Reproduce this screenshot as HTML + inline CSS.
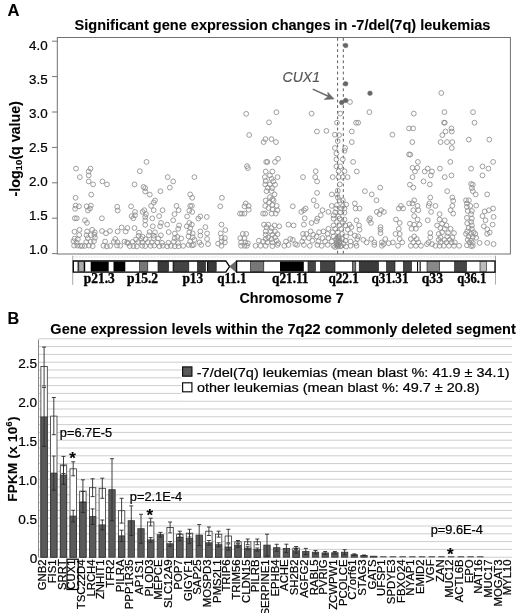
<!DOCTYPE html>
<html><head><meta charset="utf-8"><title>Figure</title>
<style>html,body{margin:0;padding:0;background:#fff}svg{display:block}text{font-family:"Liberation Sans",Arial,sans-serif;fill:#000;stroke:#000;stroke-width:0.22px}.b{stroke-width:0.1px}.s{stroke-width:0.35px}.b{font-weight:bold}.s{font-family:"Liberation Serif","Times New Roman",serif;font-weight:bold}</style></head><body>
<svg width="520" height="613" viewBox="0 0 520 613">
<rect width="520" height="613" fill="#fff"/>
<text x="7.6" y="15.9" class="b" font-size="16.6">A</text>
<text x="282.5" y="30" class="b" font-size="14.54" text-anchor="middle">Significant gene expression changes in -7/del(7q) leukemias</text>
<rect x="57.3" y="37.5" width="453.09999999999997" height="216.5" fill="none" stroke="#707070" stroke-width="1"/>
<line x1="52" y1="253.6" x2="57.3" y2="253.6" stroke="#777" stroke-width="1"/>
<text x="47.6" y="253.5" font-size="13.4" text-anchor="end">1.0</text>
<line x1="52" y1="218.2" x2="57.3" y2="218.2" stroke="#777" stroke-width="1"/>
<text x="47.6" y="219.6" font-size="13.4" text-anchor="end">1.5</text>
<line x1="52" y1="182.8" x2="57.3" y2="182.8" stroke="#777" stroke-width="1"/>
<text x="47.6" y="185.7" font-size="13.4" text-anchor="end">2.0</text>
<line x1="52" y1="147.4" x2="57.3" y2="147.4" stroke="#777" stroke-width="1"/>
<text x="47.6" y="151.8" font-size="13.4" text-anchor="end">2.5</text>
<line x1="52" y1="112.0" x2="57.3" y2="112.0" stroke="#777" stroke-width="1"/>
<text x="47.6" y="117.9" font-size="13.4" text-anchor="end">3.0</text>
<line x1="52" y1="76.6" x2="57.3" y2="76.6" stroke="#777" stroke-width="1"/>
<text x="47.6" y="84.0" font-size="13.4" text-anchor="end">3.5</text>
<line x1="52" y1="41.2" x2="57.3" y2="41.2" stroke="#777" stroke-width="1"/>
<text x="47.6" y="50.1" font-size="13.4" text-anchor="end">4.0</text>
<text transform="translate(19.8,148.8) rotate(-90)" class="b" font-size="14.3" text-anchor="middle">-log<tspan font-size="9.5" dy="2">10</tspan><tspan dy="-2">(q value)</tspan></text>
<line x1="337.6" y1="38" x2="337.6" y2="256.3" stroke="#5a5a5a" stroke-width="1" stroke-dasharray="2.8,2.8"/>
<line x1="343.3" y1="38" x2="343.3" y2="256.3" stroke="#5a5a5a" stroke-width="1" stroke-dasharray="2.8,2.8"/>
<g fill="none" stroke="#8e8e8e" stroke-width="0.85">
<circle cx="76.0" cy="168.6" r="2.4"/>
<circle cx="90.5" cy="168.6" r="2.4"/>
<circle cx="88.7" cy="171.5" r="2.4"/>
<circle cx="88.7" cy="175.4" r="2.4"/>
<circle cx="79.9" cy="177.1" r="2.4"/>
<circle cx="88.7" cy="181.4" r="2.4"/>
<circle cx="93.1" cy="184.4" r="2.4"/>
<circle cx="102.4" cy="181.4" r="2.4"/>
<circle cx="107.0" cy="184.4" r="2.4"/>
<circle cx="91.2" cy="194.6" r="2.4"/>
<circle cx="75.6" cy="197.8" r="2.4"/>
<circle cx="75.6" cy="205.6" r="2.4"/>
<circle cx="79.0" cy="206.3" r="2.4"/>
<circle cx="75.1" cy="208.8" r="2.4"/>
<circle cx="86.6" cy="206.3" r="2.4"/>
<circle cx="90.9" cy="205.6" r="2.4"/>
<circle cx="90.0" cy="208.5" r="2.4"/>
<circle cx="88.0" cy="210.5" r="2.4"/>
<circle cx="117.2" cy="206.8" r="2.4"/>
<circle cx="117.7" cy="210.5" r="2.4"/>
<circle cx="74.8" cy="218.3" r="2.4"/>
<circle cx="76.8" cy="218.3" r="2.4"/>
<circle cx="85.0" cy="220.3" r="2.4"/>
<circle cx="87.0" cy="222.9" r="2.4"/>
<circle cx="101.9" cy="218.3" r="2.4"/>
<circle cx="74.1" cy="245.6" r="2.4"/>
<circle cx="77.4" cy="245.6" r="2.4"/>
<circle cx="80.1" cy="245.8" r="2.4"/>
<circle cx="82.0" cy="246.0" r="2.4"/>
<circle cx="84.8" cy="245.9" r="2.4"/>
<circle cx="88.9" cy="245.6" r="2.4"/>
<circle cx="92.7" cy="246.2" r="2.4"/>
<circle cx="103.4" cy="245.7" r="2.4"/>
<circle cx="106.8" cy="246.4" r="2.4"/>
<circle cx="110.2" cy="245.9" r="2.4"/>
<circle cx="117.0" cy="245.5" r="2.4"/>
<circle cx="120.3" cy="245.8" r="2.4"/>
<circle cx="73.4" cy="241.3" r="2.4"/>
<circle cx="76.5" cy="242.6" r="2.4"/>
<circle cx="86.2" cy="242.1" r="2.4"/>
<circle cx="90.6" cy="241.8" r="2.4"/>
<circle cx="94.0" cy="241.2" r="2.4"/>
<circle cx="105.1" cy="241.5" r="2.4"/>
<circle cx="113.8" cy="241.9" r="2.4"/>
<circle cx="117.4" cy="242.2" r="2.4"/>
<circle cx="124.5" cy="241.6" r="2.4"/>
<circle cx="127.1" cy="242.4" r="2.4"/>
<circle cx="74.6" cy="238.6" r="2.4"/>
<circle cx="77.8" cy="239.2" r="2.4"/>
<circle cx="87.8" cy="238.1" r="2.4"/>
<circle cx="95.0" cy="237.8" r="2.4"/>
<circle cx="115.2" cy="239.0" r="2.4"/>
<circle cx="79.2" cy="235.0" r="2.4"/>
<circle cx="86.5" cy="235.3" r="2.4"/>
<circle cx="90.8" cy="235.1" r="2.4"/>
<circle cx="94.4" cy="234.7" r="2.4"/>
<circle cx="74.5" cy="231.7" r="2.4"/>
<circle cx="87.1" cy="231.4" r="2.4"/>
<circle cx="94.8" cy="232.3" r="2.4"/>
<circle cx="106.0" cy="233.3" r="2.4"/>
<circle cx="79.5" cy="229.8" r="2.4"/>
<circle cx="92.2" cy="229.8" r="2.4"/>
<circle cx="102.0" cy="231.0" r="2.4"/>
<circle cx="110.0" cy="231.0" r="2.4"/>
<circle cx="117.6" cy="231.5" r="2.4"/>
<circle cx="125.7" cy="231.5" r="2.4"/>
<circle cx="121.6" cy="227.5" r="2.4"/>
<circle cx="146.5" cy="161.9" r="2.4"/>
<circle cx="139.8" cy="171.2" r="2.4"/>
<circle cx="167.7" cy="177.1" r="2.4"/>
<circle cx="173.2" cy="181.4" r="2.4"/>
<circle cx="134.5" cy="184.4" r="2.4"/>
<circle cx="143.5" cy="186.9" r="2.4"/>
<circle cx="145.2" cy="188.1" r="2.4"/>
<circle cx="169.8" cy="187.6" r="2.4"/>
<circle cx="145.2" cy="191.5" r="2.4"/>
<circle cx="160.4" cy="191.2" r="2.4"/>
<circle cx="149.8" cy="194.6" r="2.4"/>
<circle cx="155.0" cy="200.5" r="2.4"/>
<circle cx="153.7" cy="202.5" r="2.4"/>
<circle cx="151.1" cy="205.9" r="2.4"/>
<circle cx="131.1" cy="206.3" r="2.4"/>
<circle cx="176.5" cy="205.9" r="2.4"/>
<circle cx="144.3" cy="210.2" r="2.4"/>
<circle cx="142.6" cy="211.9" r="2.4"/>
<circle cx="135.0" cy="211.9" r="2.4"/>
<circle cx="153.7" cy="210.2" r="2.4"/>
<circle cx="162.6" cy="210.2" r="2.4"/>
<circle cx="178.6" cy="210.2" r="2.4"/>
<circle cx="146.0" cy="214.1" r="2.4"/>
<circle cx="135.0" cy="215.3" r="2.4"/>
<circle cx="131.6" cy="216.1" r="2.4"/>
<circle cx="174.5" cy="214.1" r="2.4"/>
<circle cx="133.3" cy="218.3" r="2.4"/>
<circle cx="145.2" cy="217.0" r="2.4"/>
<circle cx="159.1" cy="216.1" r="2.4"/>
<circle cx="152.3" cy="218.3" r="2.4"/>
<circle cx="145.2" cy="220.3" r="2.4"/>
<circle cx="173.2" cy="220.3" r="2.4"/>
<circle cx="161.0" cy="222.9" r="2.4"/>
<circle cx="145.2" cy="224.9" r="2.4"/>
<circle cx="152.8" cy="226.3" r="2.4"/>
<circle cx="160.1" cy="226.3" r="2.4"/>
<circle cx="167.2" cy="224.6" r="2.4"/>
<circle cx="179.1" cy="225.4" r="2.4"/>
<circle cx="127.4" cy="228.0" r="2.4"/>
<circle cx="134.5" cy="228.0" r="2.4"/>
<circle cx="178.2" cy="228.8" r="2.4"/>
<circle cx="129.8" cy="246.1" r="2.4"/>
<circle cx="133.4" cy="246.1" r="2.4"/>
<circle cx="136.8" cy="246.4" r="2.4"/>
<circle cx="142.2" cy="245.8" r="2.4"/>
<circle cx="145.2" cy="246.1" r="2.4"/>
<circle cx="150.6" cy="245.9" r="2.4"/>
<circle cx="154.3" cy="245.6" r="2.4"/>
<circle cx="159.4" cy="246.2" r="2.4"/>
<circle cx="162.8" cy="245.7" r="2.4"/>
<circle cx="167.2" cy="246.3" r="2.4"/>
<circle cx="170.9" cy="245.9" r="2.4"/>
<circle cx="174.8" cy="246.3" r="2.4"/>
<circle cx="178.5" cy="246.3" r="2.4"/>
<circle cx="183.2" cy="245.9" r="2.4"/>
<circle cx="127.9" cy="243.2" r="2.4"/>
<circle cx="132.6" cy="241.9" r="2.4"/>
<circle cx="138.1" cy="242.0" r="2.4"/>
<circle cx="142.2" cy="242.5" r="2.4"/>
<circle cx="147.8" cy="242.1" r="2.4"/>
<circle cx="151.8" cy="242.4" r="2.4"/>
<circle cx="157.4" cy="242.6" r="2.4"/>
<circle cx="162.0" cy="242.8" r="2.4"/>
<circle cx="168.4" cy="242.7" r="2.4"/>
<circle cx="173.8" cy="241.7" r="2.4"/>
<circle cx="178.1" cy="243.0" r="2.4"/>
<circle cx="135.9" cy="239.5" r="2.4"/>
<circle cx="141.2" cy="238.8" r="2.4"/>
<circle cx="145.6" cy="239.2" r="2.4"/>
<circle cx="153.6" cy="238.2" r="2.4"/>
<circle cx="158.3" cy="238.4" r="2.4"/>
<circle cx="174.6" cy="238.2" r="2.4"/>
<circle cx="181.2" cy="238.4" r="2.4"/>
<circle cx="138.6" cy="235.8" r="2.4"/>
<circle cx="142.5" cy="236.7" r="2.4"/>
<circle cx="148.9" cy="235.4" r="2.4"/>
<circle cx="153.8" cy="235.7" r="2.4"/>
<circle cx="160.9" cy="235.3" r="2.4"/>
<circle cx="177.3" cy="236.9" r="2.4"/>
<circle cx="139.0" cy="232.7" r="2.4"/>
<circle cx="149.6" cy="232.0" r="2.4"/>
<circle cx="155.0" cy="232.3" r="2.4"/>
<circle cx="168.7" cy="232.1" r="2.4"/>
<circle cx="174.8" cy="233.5" r="2.4"/>
<circle cx="194.4" cy="177.1" r="2.4"/>
<circle cx="190.2" cy="194.4" r="2.4"/>
<circle cx="192.2" cy="197.8" r="2.4"/>
<circle cx="221.9" cy="197.8" r="2.4"/>
<circle cx="190.2" cy="205.9" r="2.4"/>
<circle cx="191.9" cy="205.9" r="2.4"/>
<circle cx="220.3" cy="206.3" r="2.4"/>
<circle cx="189.3" cy="210.7" r="2.4"/>
<circle cx="192.2" cy="211.9" r="2.4"/>
<circle cx="187.1" cy="216.4" r="2.4"/>
<circle cx="200.3" cy="216.4" r="2.4"/>
<circle cx="206.8" cy="216.9" r="2.4"/>
<circle cx="198.3" cy="218.6" r="2.4"/>
<circle cx="189.3" cy="222.9" r="2.4"/>
<circle cx="191.9" cy="224.6" r="2.4"/>
<circle cx="221.5" cy="224.6" r="2.4"/>
<circle cx="186.8" cy="226.3" r="2.4"/>
<circle cx="205.4" cy="227.1" r="2.4"/>
<circle cx="190.2" cy="228.0" r="2.4"/>
<circle cx="225.4" cy="230.0" r="2.4"/>
<circle cx="200.3" cy="231.4" r="2.4"/>
<circle cx="189.3" cy="232.2" r="2.4"/>
<circle cx="192.7" cy="233.4" r="2.4"/>
<circle cx="207.1" cy="233.4" r="2.4"/>
<circle cx="220.7" cy="233.4" r="2.4"/>
<circle cx="200.3" cy="235.6" r="2.4"/>
<circle cx="188.5" cy="236.4" r="2.4"/>
<circle cx="192.7" cy="237.3" r="2.4"/>
<circle cx="221.5" cy="237.8" r="2.4"/>
<circle cx="224.9" cy="238.1" r="2.4"/>
<circle cx="207.1" cy="239.0" r="2.4"/>
<circle cx="194.4" cy="239.8" r="2.4"/>
<circle cx="190.2" cy="241.5" r="2.4"/>
<circle cx="199.5" cy="242.4" r="2.4"/>
<circle cx="221.5" cy="241.5" r="2.4"/>
<circle cx="218.1" cy="243.6" r="2.4"/>
<circle cx="224.9" cy="242.4" r="2.4"/>
<circle cx="188.5" cy="244.9" r="2.4"/>
<circle cx="191.9" cy="245.4" r="2.4"/>
<circle cx="193.6" cy="244.9" r="2.4"/>
<circle cx="201.2" cy="244.9" r="2.4"/>
<circle cx="208.0" cy="244.1" r="2.4"/>
<circle cx="221.5" cy="245.8" r="2.4"/>
<circle cx="240.0" cy="213.6" r="2.4"/>
<circle cx="278.0" cy="158.8" r="2.4"/>
<circle cx="275.0" cy="161.9" r="2.4"/>
<circle cx="267.4" cy="161.9" r="2.4"/>
<circle cx="266.2" cy="161.9" r="2.4"/>
<circle cx="247.0" cy="166.1" r="2.4"/>
<circle cx="247.9" cy="168.1" r="2.4"/>
<circle cx="265.7" cy="171.5" r="2.4"/>
<circle cx="272.4" cy="171.5" r="2.4"/>
<circle cx="269.9" cy="175.4" r="2.4"/>
<circle cx="264.8" cy="177.1" r="2.4"/>
<circle cx="277.5" cy="177.1" r="2.4"/>
<circle cx="271.6" cy="178.8" r="2.4"/>
<circle cx="265.7" cy="181.0" r="2.4"/>
<circle cx="273.3" cy="181.4" r="2.4"/>
<circle cx="265.2" cy="184.4" r="2.4"/>
<circle cx="269.9" cy="184.4" r="2.4"/>
<circle cx="275.0" cy="184.7" r="2.4"/>
<circle cx="267.7" cy="187.6" r="2.4"/>
<circle cx="272.1" cy="188.1" r="2.4"/>
<circle cx="266.5" cy="191.2" r="2.4"/>
<circle cx="271.6" cy="191.2" r="2.4"/>
<circle cx="274.6" cy="194.4" r="2.4"/>
<circle cx="269.9" cy="197.1" r="2.4"/>
<circle cx="272.4" cy="199.2" r="2.4"/>
<circle cx="265.7" cy="200.5" r="2.4"/>
<circle cx="273.6" cy="200.5" r="2.4"/>
<circle cx="269.0" cy="202.5" r="2.4"/>
<circle cx="245.7" cy="203.4" r="2.4"/>
<circle cx="244.5" cy="206.3" r="2.4"/>
<circle cx="248.7" cy="205.9" r="2.4"/>
<circle cx="265.2" cy="205.9" r="2.4"/>
<circle cx="272.4" cy="205.1" r="2.4"/>
<circle cx="276.7" cy="205.9" r="2.4"/>
<circle cx="292.8" cy="206.3" r="2.4"/>
<circle cx="268.5" cy="208.1" r="2.4"/>
<circle cx="248.7" cy="209.7" r="2.4"/>
<circle cx="272.4" cy="209.3" r="2.4"/>
<circle cx="277.5" cy="210.2" r="2.4"/>
<circle cx="241.9" cy="213.6" r="2.4"/>
<circle cx="244.5" cy="213.6" r="2.4"/>
<circle cx="263.1" cy="213.6" r="2.4"/>
<circle cx="265.2" cy="213.6" r="2.4"/>
<circle cx="271.6" cy="213.6" r="2.4"/>
<circle cx="275.8" cy="213.6" r="2.4"/>
<circle cx="264.0" cy="224.6" r="2.4"/>
<circle cx="268.2" cy="224.6" r="2.4"/>
<circle cx="274.6" cy="225.4" r="2.4"/>
<circle cx="279.2" cy="226.3" r="2.4"/>
<circle cx="288.5" cy="224.6" r="2.4"/>
<circle cx="293.6" cy="225.4" r="2.4"/>
<circle cx="266.5" cy="227.1" r="2.4"/>
<circle cx="271.6" cy="228.0" r="2.4"/>
<circle cx="265.7" cy="231.4" r="2.4"/>
<circle cx="270.7" cy="231.4" r="2.4"/>
<circle cx="275.0" cy="231.4" r="2.4"/>
<circle cx="242.8" cy="233.9" r="2.4"/>
<circle cx="246.2" cy="233.9" r="2.4"/>
<circle cx="265.7" cy="234.7" r="2.4"/>
<circle cx="272.4" cy="234.7" r="2.4"/>
<circle cx="277.5" cy="234.2" r="2.4"/>
<circle cx="268.2" cy="237.3" r="2.4"/>
<circle cx="275.0" cy="237.3" r="2.4"/>
<circle cx="240.2" cy="238.1" r="2.4"/>
<circle cx="244.5" cy="238.1" r="2.4"/>
<circle cx="265.7" cy="239.0" r="2.4"/>
<circle cx="271.6" cy="239.0" r="2.4"/>
<circle cx="290.2" cy="239.0" r="2.4"/>
<circle cx="258.9" cy="240.7" r="2.4"/>
<circle cx="263.1" cy="241.5" r="2.4"/>
<circle cx="276.7" cy="240.7" r="2.4"/>
<circle cx="286.0" cy="241.5" r="2.4"/>
<circle cx="241.1" cy="242.4" r="2.4"/>
<circle cx="245.3" cy="242.4" r="2.4"/>
<circle cx="247.9" cy="243.2" r="2.4"/>
<circle cx="267.4" cy="242.4" r="2.4"/>
<circle cx="272.4" cy="242.4" r="2.4"/>
<circle cx="278.4" cy="243.2" r="2.4"/>
<circle cx="241.1" cy="245.8" r="2.4"/>
<circle cx="244.5" cy="245.8" r="2.4"/>
<circle cx="247.0" cy="245.8" r="2.4"/>
<circle cx="255.5" cy="245.8" r="2.4"/>
<circle cx="260.6" cy="245.8" r="2.4"/>
<circle cx="265.7" cy="245.8" r="2.4"/>
<circle cx="272.4" cy="246.1" r="2.4"/>
<circle cx="277.5" cy="244.9" r="2.4"/>
<circle cx="284.3" cy="245.8" r="2.4"/>
<circle cx="288.5" cy="244.9" r="2.4"/>
<circle cx="295.3" cy="244.1" r="2.4"/>
<circle cx="336.4" cy="153.4" r="2.4"/>
<circle cx="344.5" cy="150.8" r="2.4"/>
<circle cx="336.4" cy="159.3" r="2.4"/>
<circle cx="342.8" cy="159.3" r="2.4"/>
<circle cx="336.4" cy="166.4" r="2.4"/>
<circle cx="340.3" cy="166.4" r="2.4"/>
<circle cx="315.7" cy="171.2" r="2.4"/>
<circle cx="338.6" cy="171.2" r="2.4"/>
<circle cx="344.5" cy="171.2" r="2.4"/>
<circle cx="303.0" cy="177.1" r="2.4"/>
<circle cx="315.2" cy="177.1" r="2.4"/>
<circle cx="332.7" cy="177.1" r="2.4"/>
<circle cx="338.6" cy="177.1" r="2.4"/>
<circle cx="342.8" cy="177.1" r="2.4"/>
<circle cx="347.6" cy="177.1" r="2.4"/>
<circle cx="317.1" cy="181.4" r="2.4"/>
<circle cx="339.8" cy="184.4" r="2.4"/>
<circle cx="337.8" cy="190.7" r="2.4"/>
<circle cx="317.1" cy="192.9" r="2.4"/>
<circle cx="331.8" cy="194.4" r="2.4"/>
<circle cx="336.9" cy="194.4" r="2.4"/>
<circle cx="337.8" cy="197.5" r="2.4"/>
<circle cx="313.7" cy="200.3" r="2.4"/>
<circle cx="339.5" cy="200.3" r="2.4"/>
<circle cx="342.8" cy="200.3" r="2.4"/>
<circle cx="316.6" cy="205.9" r="2.4"/>
<circle cx="331.8" cy="205.9" r="2.4"/>
<circle cx="336.9" cy="205.1" r="2.4"/>
<circle cx="342.8" cy="205.9" r="2.4"/>
<circle cx="346.2" cy="204.6" r="2.4"/>
<circle cx="305.6" cy="208.5" r="2.4"/>
<circle cx="336.1" cy="208.5" r="2.4"/>
<circle cx="341.2" cy="208.5" r="2.4"/>
<circle cx="344.5" cy="208.5" r="2.4"/>
<circle cx="301.3" cy="211.9" r="2.4"/>
<circle cx="303.9" cy="210.2" r="2.4"/>
<circle cx="322.5" cy="210.2" r="2.4"/>
<circle cx="328.4" cy="211.9" r="2.4"/>
<circle cx="335.2" cy="212.4" r="2.4"/>
<circle cx="340.3" cy="212.4" r="2.4"/>
<circle cx="344.5" cy="212.7" r="2.4"/>
<circle cx="320.8" cy="215.3" r="2.4"/>
<circle cx="333.5" cy="215.3" r="2.4"/>
<circle cx="338.6" cy="216.1" r="2.4"/>
<circle cx="304.7" cy="218.3" r="2.4"/>
<circle cx="317.4" cy="218.6" r="2.4"/>
<circle cx="333.5" cy="218.6" r="2.4"/>
<circle cx="339.5" cy="218.6" r="2.4"/>
<circle cx="344.5" cy="219.5" r="2.4"/>
<circle cx="311.5" cy="222.9" r="2.4"/>
<circle cx="316.6" cy="221.2" r="2.4"/>
<circle cx="336.9" cy="222.0" r="2.4"/>
<circle cx="342.8" cy="222.9" r="2.4"/>
<circle cx="303.9" cy="224.6" r="2.4"/>
<circle cx="333.5" cy="225.4" r="2.4"/>
<circle cx="339.5" cy="225.4" r="2.4"/>
<circle cx="345.4" cy="225.4" r="2.4"/>
<circle cx="349.6" cy="224.6" r="2.4"/>
<circle cx="328.4" cy="228.8" r="2.4"/>
<circle cx="335.2" cy="228.8" r="2.4"/>
<circle cx="341.2" cy="228.8" r="2.4"/>
<circle cx="347.9" cy="229.7" r="2.4"/>
<circle cx="310.6" cy="231.4" r="2.4"/>
<circle cx="323.4" cy="231.4" r="2.4"/>
<circle cx="319.1" cy="232.2" r="2.4"/>
<circle cx="332.7" cy="232.2" r="2.4"/>
<circle cx="337.8" cy="232.2" r="2.4"/>
<circle cx="303.0" cy="233.9" r="2.4"/>
<circle cx="306.4" cy="233.9" r="2.4"/>
<circle cx="313.2" cy="234.7" r="2.4"/>
<circle cx="327.6" cy="233.9" r="2.4"/>
<circle cx="342.0" cy="233.9" r="2.4"/>
<circle cx="316.6" cy="236.4" r="2.4"/>
<circle cx="333.5" cy="236.4" r="2.4"/>
<circle cx="338.6" cy="236.4" r="2.4"/>
<circle cx="346.2" cy="236.4" r="2.4"/>
<circle cx="303.9" cy="238.1" r="2.4"/>
<circle cx="308.9" cy="238.1" r="2.4"/>
<circle cx="322.5" cy="238.1" r="2.4"/>
<circle cx="328.4" cy="238.1" r="2.4"/>
<circle cx="336.1" cy="239.0" r="2.4"/>
<circle cx="342.0" cy="239.0" r="2.4"/>
<circle cx="292.8" cy="239.8" r="2.4"/>
<circle cx="302.2" cy="241.5" r="2.4"/>
<circle cx="312.3" cy="240.7" r="2.4"/>
<circle cx="318.3" cy="241.5" r="2.4"/>
<circle cx="325.1" cy="241.5" r="2.4"/>
<circle cx="331.8" cy="241.5" r="2.4"/>
<circle cx="337.8" cy="241.5" r="2.4"/>
<circle cx="345.4" cy="240.7" r="2.4"/>
<circle cx="350.5" cy="241.5" r="2.4"/>
<circle cx="297.1" cy="244.9" r="2.4"/>
<circle cx="303.9" cy="244.9" r="2.4"/>
<circle cx="309.8" cy="245.8" r="2.4"/>
<circle cx="317.4" cy="244.9" r="2.4"/>
<circle cx="321.7" cy="245.8" r="2.4"/>
<circle cx="327.6" cy="244.9" r="2.4"/>
<circle cx="333.5" cy="245.8" r="2.4"/>
<circle cx="337.8" cy="244.9" r="2.4"/>
<circle cx="337.8" cy="246.6" r="2.4"/>
<circle cx="341.2" cy="245.8" r="2.4"/>
<circle cx="346.2" cy="246.6" r="2.4"/>
<circle cx="350.5" cy="245.8" r="2.4"/>
<circle cx="353.1" cy="161.9" r="2.4"/>
<circle cx="356.8" cy="171.5" r="2.4"/>
<circle cx="380.2" cy="187.6" r="2.4"/>
<circle cx="364.9" cy="191.2" r="2.4"/>
<circle cx="371.7" cy="194.4" r="2.4"/>
<circle cx="376.5" cy="200.3" r="2.4"/>
<circle cx="354.8" cy="203.4" r="2.4"/>
<circle cx="355.6" cy="208.5" r="2.4"/>
<circle cx="359.5" cy="208.5" r="2.4"/>
<circle cx="400.9" cy="205.9" r="2.4"/>
<circle cx="398.8" cy="208.5" r="2.4"/>
<circle cx="403.1" cy="208.5" r="2.4"/>
<circle cx="381.1" cy="210.2" r="2.4"/>
<circle cx="376.8" cy="211.9" r="2.4"/>
<circle cx="383.9" cy="211.9" r="2.4"/>
<circle cx="379.4" cy="214.1" r="2.4"/>
<circle cx="370.0" cy="218.3" r="2.4"/>
<circle cx="356.5" cy="220.3" r="2.4"/>
<circle cx="369.2" cy="220.3" r="2.4"/>
<circle cx="396.0" cy="219.5" r="2.4"/>
<circle cx="370.9" cy="222.9" r="2.4"/>
<circle cx="399.7" cy="222.9" r="2.4"/>
<circle cx="359.0" cy="225.4" r="2.4"/>
<circle cx="351.4" cy="227.1" r="2.4"/>
<circle cx="380.5" cy="227.1" r="2.4"/>
<circle cx="398.8" cy="228.8" r="2.4"/>
<circle cx="359.5" cy="229.7" r="2.4"/>
<circle cx="380.5" cy="229.7" r="2.4"/>
<circle cx="350.5" cy="233.1" r="2.4"/>
<circle cx="380.5" cy="233.1" r="2.4"/>
<circle cx="395.5" cy="233.9" r="2.4"/>
<circle cx="399.7" cy="233.9" r="2.4"/>
<circle cx="354.8" cy="235.6" r="2.4"/>
<circle cx="358.2" cy="236.4" r="2.4"/>
<circle cx="357.3" cy="239.0" r="2.4"/>
<circle cx="363.3" cy="239.8" r="2.4"/>
<circle cx="371.4" cy="239.0" r="2.4"/>
<circle cx="385.3" cy="239.0" r="2.4"/>
<circle cx="399.7" cy="239.0" r="2.4"/>
<circle cx="366.6" cy="242.4" r="2.4"/>
<circle cx="374.3" cy="242.4" r="2.4"/>
<circle cx="381.9" cy="242.4" r="2.4"/>
<circle cx="392.9" cy="242.4" r="2.4"/>
<circle cx="402.2" cy="242.4" r="2.4"/>
<circle cx="355.6" cy="243.2" r="2.4"/>
<circle cx="388.7" cy="243.2" r="2.4"/>
<circle cx="356.5" cy="245.8" r="2.4"/>
<circle cx="374.3" cy="244.9" r="2.4"/>
<circle cx="381.9" cy="245.8" r="2.4"/>
<circle cx="383.6" cy="244.1" r="2.4"/>
<circle cx="398.0" cy="245.8" r="2.4"/>
<circle cx="410.3" cy="154.6" r="2.4"/>
<circle cx="417.9" cy="161.9" r="2.4"/>
<circle cx="450.3" cy="161.9" r="2.4"/>
<circle cx="412.5" cy="167.8" r="2.4"/>
<circle cx="417.2" cy="167.8" r="2.4"/>
<circle cx="427.7" cy="168.6" r="2.4"/>
<circle cx="439.9" cy="168.6" r="2.4"/>
<circle cx="415.0" cy="171.5" r="2.4"/>
<circle cx="424.7" cy="171.5" r="2.4"/>
<circle cx="432.0" cy="171.5" r="2.4"/>
<circle cx="430.8" cy="175.4" r="2.4"/>
<circle cx="412.5" cy="177.1" r="2.4"/>
<circle cx="444.7" cy="177.1" r="2.4"/>
<circle cx="451.5" cy="175.4" r="2.4"/>
<circle cx="423.5" cy="181.4" r="2.4"/>
<circle cx="409.9" cy="184.7" r="2.4"/>
<circle cx="413.3" cy="187.6" r="2.4"/>
<circle cx="429.8" cy="184.4" r="2.4"/>
<circle cx="447.2" cy="191.2" r="2.4"/>
<circle cx="430.3" cy="197.5" r="2.4"/>
<circle cx="452.3" cy="197.5" r="2.4"/>
<circle cx="414.2" cy="200.3" r="2.4"/>
<circle cx="453.2" cy="200.8" r="2.4"/>
<circle cx="409.1" cy="203.4" r="2.4"/>
<circle cx="412.5" cy="203.4" r="2.4"/>
<circle cx="429.4" cy="203.4" r="2.4"/>
<circle cx="417.6" cy="205.9" r="2.4"/>
<circle cx="428.6" cy="205.9" r="2.4"/>
<circle cx="435.4" cy="205.9" r="2.4"/>
<circle cx="452.3" cy="205.9" r="2.4"/>
<circle cx="413.3" cy="210.2" r="2.4"/>
<circle cx="418.4" cy="210.2" r="2.4"/>
<circle cx="431.1" cy="211.9" r="2.4"/>
<circle cx="450.6" cy="210.2" r="2.4"/>
<circle cx="453.2" cy="213.6" r="2.4"/>
<circle cx="439.6" cy="214.1" r="2.4"/>
<circle cx="414.2" cy="216.1" r="2.4"/>
<circle cx="417.6" cy="219.5" r="2.4"/>
<circle cx="427.7" cy="220.3" r="2.4"/>
<circle cx="439.6" cy="219.5" r="2.4"/>
<circle cx="444.7" cy="220.3" r="2.4"/>
<circle cx="409.9" cy="223.7" r="2.4"/>
<circle cx="414.2" cy="224.6" r="2.4"/>
<circle cx="419.3" cy="224.6" r="2.4"/>
<circle cx="437.1" cy="225.4" r="2.4"/>
<circle cx="442.1" cy="223.7" r="2.4"/>
<circle cx="446.4" cy="225.4" r="2.4"/>
<circle cx="411.6" cy="228.8" r="2.4"/>
<circle cx="415.9" cy="228.8" r="2.4"/>
<circle cx="440.4" cy="228.0" r="2.4"/>
<circle cx="444.7" cy="228.8" r="2.4"/>
<circle cx="450.6" cy="228.8" r="2.4"/>
<circle cx="430.3" cy="233.1" r="2.4"/>
<circle cx="438.7" cy="233.9" r="2.4"/>
<circle cx="442.1" cy="232.2" r="2.4"/>
<circle cx="448.1" cy="233.1" r="2.4"/>
<circle cx="454.0" cy="233.1" r="2.4"/>
<circle cx="414.2" cy="236.4" r="2.4"/>
<circle cx="430.3" cy="237.3" r="2.4"/>
<circle cx="440.4" cy="237.3" r="2.4"/>
<circle cx="447.2" cy="236.4" r="2.4"/>
<circle cx="452.3" cy="237.3" r="2.4"/>
<circle cx="410.8" cy="239.0" r="2.4"/>
<circle cx="416.7" cy="239.0" r="2.4"/>
<circle cx="438.7" cy="239.8" r="2.4"/>
<circle cx="444.7" cy="239.8" r="2.4"/>
<circle cx="449.8" cy="239.8" r="2.4"/>
<circle cx="413.3" cy="242.4" r="2.4"/>
<circle cx="418.4" cy="242.4" r="2.4"/>
<circle cx="428.6" cy="242.4" r="2.4"/>
<circle cx="440.4" cy="242.4" r="2.4"/>
<circle cx="446.4" cy="242.4" r="2.4"/>
<circle cx="451.5" cy="242.4" r="2.4"/>
<circle cx="454.8" cy="242.4" r="2.4"/>
<circle cx="410.8" cy="245.8" r="2.4"/>
<circle cx="415.9" cy="245.8" r="2.4"/>
<circle cx="420.9" cy="245.8" r="2.4"/>
<circle cx="426.9" cy="244.1" r="2.4"/>
<circle cx="432.0" cy="244.1" r="2.4"/>
<circle cx="435.4" cy="245.8" r="2.4"/>
<circle cx="439.6" cy="245.8" r="2.4"/>
<circle cx="443.8" cy="245.8" r="2.4"/>
<circle cx="448.9" cy="245.8" r="2.4"/>
<circle cx="454.0" cy="245.8" r="2.4"/>
<circle cx="459.1" cy="245.8" r="2.4"/>
<circle cx="493.1" cy="161.9" r="2.4"/>
<circle cx="482.5" cy="166.4" r="2.4"/>
<circle cx="471.1" cy="168.6" r="2.4"/>
<circle cx="488.4" cy="168.6" r="2.4"/>
<circle cx="482.5" cy="175.4" r="2.4"/>
<circle cx="471.1" cy="183.9" r="2.4"/>
<circle cx="472.8" cy="184.7" r="2.4"/>
<circle cx="471.9" cy="188.1" r="2.4"/>
<circle cx="472.8" cy="191.2" r="2.4"/>
<circle cx="475.7" cy="194.4" r="2.4"/>
<circle cx="487.2" cy="194.4" r="2.4"/>
<circle cx="466.0" cy="200.3" r="2.4"/>
<circle cx="468.9" cy="200.3" r="2.4"/>
<circle cx="466.9" cy="203.4" r="2.4"/>
<circle cx="466.9" cy="206.8" r="2.4"/>
<circle cx="470.3" cy="205.9" r="2.4"/>
<circle cx="476.2" cy="205.6" r="2.4"/>
<circle cx="493.1" cy="208.5" r="2.4"/>
<circle cx="488.9" cy="210.2" r="2.4"/>
<circle cx="484.7" cy="211.4" r="2.4"/>
<circle cx="467.7" cy="211.0" r="2.4"/>
<circle cx="471.9" cy="211.0" r="2.4"/>
<circle cx="471.1" cy="214.1" r="2.4"/>
<circle cx="482.5" cy="216.1" r="2.4"/>
<circle cx="493.6" cy="216.9" r="2.4"/>
<circle cx="466.9" cy="217.8" r="2.4"/>
<circle cx="471.9" cy="218.6" r="2.4"/>
<circle cx="485.5" cy="220.3" r="2.4"/>
<circle cx="471.1" cy="222.0" r="2.4"/>
<circle cx="467.2" cy="223.2" r="2.4"/>
<circle cx="492.6" cy="224.6" r="2.4"/>
<circle cx="471.9" cy="225.4" r="2.4"/>
<circle cx="483.8" cy="226.3" r="2.4"/>
<circle cx="468.6" cy="228.0" r="2.4"/>
<circle cx="471.9" cy="228.8" r="2.4"/>
<circle cx="487.2" cy="229.3" r="2.4"/>
<circle cx="467.2" cy="231.4" r="2.4"/>
<circle cx="473.6" cy="232.2" r="2.4"/>
<circle cx="489.7" cy="232.5" r="2.4"/>
<circle cx="466.0" cy="233.9" r="2.4"/>
<circle cx="471.1" cy="233.9" r="2.4"/>
<circle cx="475.3" cy="233.9" r="2.4"/>
<circle cx="487.2" cy="233.9" r="2.4"/>
<circle cx="468.6" cy="236.4" r="2.4"/>
<circle cx="472.8" cy="236.8" r="2.4"/>
<circle cx="476.2" cy="237.8" r="2.4"/>
<circle cx="467.7" cy="239.8" r="2.4"/>
<circle cx="471.1" cy="240.7" r="2.4"/>
<circle cx="469.4" cy="242.4" r="2.4"/>
<circle cx="472.8" cy="242.9" r="2.4"/>
<circle cx="479.6" cy="242.9" r="2.4"/>
<circle cx="487.2" cy="242.9" r="2.4"/>
<circle cx="493.6" cy="244.1" r="2.4"/>
<circle cx="466.9" cy="245.3" r="2.4"/>
<circle cx="471.1" cy="246.1" r="2.4"/>
<circle cx="472.8" cy="245.8" r="2.4"/>
<circle cx="336.5" cy="243.5" r="2.4"/>
<circle cx="339.5" cy="243.0" r="2.4"/>
<circle cx="338.8" cy="240.0" r="2.4"/>
<circle cx="340.4" cy="246.3" r="2.4"/>
<circle cx="335.0" cy="247.0" r="2.4"/>
<circle cx="343.5" cy="243.8" r="2.4"/>
<circle cx="338.0" cy="238.0" r="2.4"/>
<circle cx="338.6" cy="245.0" r="2.4"/>
<circle cx="339.0" cy="238.6" r="2.4"/>
<circle cx="337.0" cy="240.5" r="2.4"/>
<circle cx="336.8" cy="245.6" r="2.4"/>
<circle cx="339.4" cy="241.6" r="2.4"/>
<circle cx="246.2" cy="113.8" r="2.4"/>
<circle cx="276.4" cy="112.2" r="2.4"/>
<circle cx="269.0" cy="122.3" r="2.4"/>
<circle cx="249.2" cy="135.0" r="2.4"/>
<circle cx="265.4" cy="139.1" r="2.4"/>
<circle cx="263.6" cy="142.1" r="2.4"/>
<circle cx="271.5" cy="139.1" r="2.4"/>
<circle cx="276.0" cy="142.1" r="2.4"/>
<circle cx="350.0" cy="102.0" r="2.4"/>
<circle cx="311.6" cy="113.6" r="2.4"/>
<circle cx="340.2" cy="113.6" r="2.4"/>
<circle cx="369.4" cy="112.1" r="2.4"/>
<circle cx="337.0" cy="122.7" r="2.4"/>
<circle cx="356.1" cy="122.7" r="2.4"/>
<circle cx="358.2" cy="122.7" r="2.4"/>
<circle cx="316.9" cy="131.5" r="2.4"/>
<circle cx="326.4" cy="130.9" r="2.4"/>
<circle cx="351.8" cy="131.5" r="2.4"/>
<circle cx="334.9" cy="134.7" r="2.4"/>
<circle cx="339.1" cy="135.1" r="2.4"/>
<circle cx="392.4" cy="134.7" r="2.4"/>
<circle cx="409.0" cy="128.4" r="2.4"/>
<circle cx="337.7" cy="141.1" r="2.4"/>
<circle cx="351.8" cy="142.1" r="2.4"/>
<circle cx="334.9" cy="148.0" r="2.4"/>
<circle cx="345.1" cy="148.0" r="2.4"/>
<circle cx="409.0" cy="154.4" r="2.4"/>
<circle cx="441.3" cy="93.0" r="2.4"/>
<circle cx="413.8" cy="113.6" r="2.4"/>
<circle cx="444.4" cy="112.1" r="2.4"/>
<circle cx="473.0" cy="112.1" r="2.4"/>
<circle cx="444.0" cy="122.7" r="2.4"/>
<circle cx="444.8" cy="122.7" r="2.4"/>
<circle cx="474.5" cy="122.7" r="2.4"/>
<circle cx="413.1" cy="128.4" r="2.4"/>
<circle cx="451.4" cy="128.4" r="2.4"/>
<circle cx="445.5" cy="131.5" r="2.4"/>
<circle cx="451.8" cy="131.5" r="2.4"/>
<circle cx="442.3" cy="135.1" r="2.4"/>
<circle cx="468.8" cy="139.6" r="2.4"/>
<circle cx="489.3" cy="139.6" r="2.4"/>
<circle cx="412.3" cy="142.1" r="2.4"/>
<circle cx="440.6" cy="142.1" r="2.4"/>
<circle cx="447.0" cy="142.1" r="2.4"/>
<circle cx="452.3" cy="142.1" r="2.4"/>
<circle cx="451.8" cy="148.0" r="2.4"/>
</g>
<g fill="#666" stroke="#666" stroke-width="0.5">
<circle cx="345.7" cy="45.5" r="2.3"/>
<circle cx="345.7" cy="83.8" r="2.3"/>
<circle cx="370" cy="93.2" r="2.3"/>
<circle cx="345.7" cy="100.5" r="2.3"/>
<circle cx="341.7" cy="102.5" r="2.3"/>
</g>
<text x="282.6" y="82.0" font-size="14" font-style="italic" style="fill:#555;stroke:#555;stroke-width:0.15px">CUX1</text>
<path d="M312.7 89.1 L330 97" stroke="#6a6a6a" stroke-width="1.5" fill="none"/>
<path d="M334 98.9 L324.2 99.5 L328.2 96.4 L327.8 92.2 Z" fill="#6a6a6a" stroke="#6a6a6a" stroke-width="0.6" stroke-linejoin="round"/>
<path d="M72.7 257 H495.5" stroke="#ddd" stroke-width="1" fill="none" stroke-dasharray="2,1"/>
<path d="M72.7 255.7 V285 M495.5 255.7 V284.5" stroke="#aaa" stroke-width="1" fill="none"/>
<path d="M73.3 261.0 H225.8 L229.6 266.6 L225.8 272.2 H73.3 Z" fill="#fff" stroke="#000" stroke-width="1.3" stroke-linejoin="miter"/>
<path d="M236.3 261.0 L229.6 266.6 L236.3 272.2 Z" fill="#6a6a6a" stroke="#555" stroke-width="0.6"/>
<rect x="236.6" y="261.0" width="258.4" height="11.199999999999989" fill="#fff" stroke="#000" stroke-width="1.3"/>
<rect x="77.6" y="261.6" width="1.1" height="10.0" fill="#000"/>
<rect x="78.8" y="261.6" width="5.2" height="10.0" fill="#aaa" stroke="#111" stroke-width="0.6"/>
<rect x="84" y="261.6" width="1.2" height="10.0" fill="#000"/>
<rect x="90.7" y="261.6" width="18.0" height="10.0" fill="#000"/>
<rect x="113.5" y="261.6" width="11.8" height="10.0" fill="#000"/>
<rect x="139.6" y="261.6" width="8.2" height="10.0" fill="#777" stroke="#111" stroke-width="0.6"/>
<rect x="158" y="261.6" width="10.6" height="10.0" fill="#3a3a3a" stroke="#111" stroke-width="0.6"/>
<rect x="172.7" y="261.6" width="1.1" height="10.0" fill="#000"/>
<rect x="173.8" y="261.6" width="15.0" height="10.0" fill="#444" stroke="#111" stroke-width="0.6"/>
<rect x="197.4" y="261.6" width="8.1" height="10.0" fill="#3a3a3a" stroke="#111" stroke-width="0.6"/>
<rect x="207" y="261.6" width="1.0" height="10.0" fill="#000"/>
<rect x="208" y="261.6" width="8.2" height="10.0" fill="#3a3a3a" stroke="#111" stroke-width="0.6"/>
<rect x="250.5" y="261.6" width="13.3" height="10.0" fill="#777" stroke="#111" stroke-width="0.6"/>
<rect x="280" y="261.6" width="23.8" height="10.0" fill="#000"/>
<rect x="308" y="261.6" width="7.4" height="10.0" fill="#444" stroke="#111" stroke-width="0.6"/>
<rect x="320.5" y="261.6" width="14.5" height="10.0" fill="#444" stroke="#111" stroke-width="0.6"/>
<rect x="352.3" y="261.6" width="3.5" height="10.0" fill="#777" stroke="#111" stroke-width="0.6"/>
<rect x="359.2" y="261.6" width="19.3" height="10.0" fill="#3a3a3a" stroke="#111" stroke-width="0.6"/>
<rect x="386.5" y="261.6" width="8.5" height="10.0" fill="#444" stroke="#111" stroke-width="0.6"/>
<rect x="403.4" y="261.6" width="8.1" height="10.0" fill="#444" stroke="#111" stroke-width="0.6"/>
<rect x="417" y="261.6" width="1.1" height="10.0" fill="#000"/>
<rect x="419.6" y="261.6" width="1.1" height="10.0" fill="#000"/>
<rect x="427" y="261.6" width="12.6" height="10.0" fill="#888" stroke="#111" stroke-width="0.6"/>
<rect x="454.6" y="261.6" width="11.9" height="10.0" fill="#444" stroke="#111" stroke-width="0.6"/>
<rect x="480" y="261.6" width="6.3" height="10.0" fill="#bbb" stroke="#111" stroke-width="0.6"/>
<text x="83.8" y="282.7" class="s" font-size="14" stroke="#111" stroke-width="0.35" textLength="30.9" lengthAdjust="spacingAndGlyphs">p21.3</text>
<text x="126.9" y="282.7" class="s" font-size="14" stroke="#111" stroke-width="0.35" textLength="31.2" lengthAdjust="spacingAndGlyphs">p15.2</text>
<text x="182.4" y="282.7" class="s" font-size="14" stroke="#111" stroke-width="0.35" textLength="20.8" lengthAdjust="spacingAndGlyphs">p13</text>
<text x="217.2" y="282.7" class="s" font-size="14" stroke="#111" stroke-width="0.35" textLength="29.3" lengthAdjust="spacingAndGlyphs">q11.1</text>
<text x="272" y="282.7" class="s" font-size="14" stroke="#111" stroke-width="0.35" textLength="36.5" lengthAdjust="spacingAndGlyphs">q21.11</text>
<text x="328.5" y="282.7" class="s" font-size="14" stroke="#111" stroke-width="0.35" textLength="30.3" lengthAdjust="spacingAndGlyphs">q22.1</text>
<text x="371.5" y="282.7" class="s" font-size="14" stroke="#111" stroke-width="0.35" textLength="37.0" lengthAdjust="spacingAndGlyphs">q31.31</text>
<text x="421.8" y="282.7" class="s" font-size="14" stroke="#111" stroke-width="0.35" textLength="21.2" lengthAdjust="spacingAndGlyphs">q33</text>
<text x="457.2" y="282.7" class="s" font-size="14" stroke="#111" stroke-width="0.35" textLength="29.1" lengthAdjust="spacingAndGlyphs">q36.1</text>
<text x="291.6" y="302.5" class="b" font-size="14.33" text-anchor="middle">Chromosome 7</text>
<text x="7.6" y="323.9" class="b" font-size="16.2">B</text>
<text x="283.1" y="334.3" class="b" font-size="14.53" text-anchor="middle">Gene expression levels within the 7q22 commonly deleted segment</text>
<line x1="38.5" y1="557.2" x2="512" y2="557.2" stroke="#cdcdcd" stroke-width="1"/>
<line x1="38.5" y1="549.4" x2="512" y2="549.4" stroke="#cdcdcd" stroke-width="1"/>
<line x1="38.5" y1="541.6" x2="512" y2="541.6" stroke="#cdcdcd" stroke-width="1"/>
<line x1="38.5" y1="533.8" x2="512" y2="533.8" stroke="#cdcdcd" stroke-width="1"/>
<line x1="38.5" y1="526.0" x2="512" y2="526.0" stroke="#cdcdcd" stroke-width="1"/>
<line x1="38.5" y1="518.2" x2="512" y2="518.2" stroke="#cdcdcd" stroke-width="1"/>
<line x1="38.5" y1="510.4" x2="512" y2="510.4" stroke="#cdcdcd" stroke-width="1"/>
<line x1="38.5" y1="502.6" x2="512" y2="502.6" stroke="#cdcdcd" stroke-width="1"/>
<line x1="38.5" y1="494.8" x2="512" y2="494.8" stroke="#cdcdcd" stroke-width="1"/>
<line x1="38.5" y1="487.0" x2="512" y2="487.0" stroke="#cdcdcd" stroke-width="1"/>
<line x1="38.5" y1="479.2" x2="512" y2="479.2" stroke="#cdcdcd" stroke-width="1"/>
<line x1="38.5" y1="471.4" x2="512" y2="471.4" stroke="#cdcdcd" stroke-width="1"/>
<line x1="38.5" y1="463.6" x2="512" y2="463.6" stroke="#cdcdcd" stroke-width="1"/>
<line x1="38.5" y1="455.8" x2="512" y2="455.8" stroke="#cdcdcd" stroke-width="1"/>
<line x1="38.5" y1="448.0" x2="512" y2="448.0" stroke="#cdcdcd" stroke-width="1"/>
<line x1="38.5" y1="440.2" x2="512" y2="440.2" stroke="#cdcdcd" stroke-width="1"/>
<line x1="38.5" y1="432.4" x2="512" y2="432.4" stroke="#cdcdcd" stroke-width="1"/>
<line x1="38.5" y1="424.6" x2="512" y2="424.6" stroke="#cdcdcd" stroke-width="1"/>
<line x1="38.5" y1="416.8" x2="512" y2="416.8" stroke="#cdcdcd" stroke-width="1"/>
<line x1="38.5" y1="409.0" x2="512" y2="409.0" stroke="#cdcdcd" stroke-width="1"/>
<line x1="38.5" y1="401.2" x2="512" y2="401.2" stroke="#cdcdcd" stroke-width="1"/>
<line x1="38.5" y1="393.4" x2="512" y2="393.4" stroke="#cdcdcd" stroke-width="1"/>
<line x1="38.5" y1="385.6" x2="512" y2="385.6" stroke="#cdcdcd" stroke-width="1"/>
<line x1="38.5" y1="377.8" x2="512" y2="377.8" stroke="#cdcdcd" stroke-width="1"/>
<line x1="38.5" y1="370.0" x2="512" y2="370.0" stroke="#cdcdcd" stroke-width="1"/>
<line x1="38.5" y1="362.2" x2="512" y2="362.2" stroke="#cdcdcd" stroke-width="1"/>
<line x1="38.5" y1="354.4" x2="512" y2="354.4" stroke="#cdcdcd" stroke-width="1"/>
<line x1="38.5" y1="346.6" x2="512" y2="346.6" stroke="#cdcdcd" stroke-width="1"/>
<line x1="38.5" y1="338.8" x2="512" y2="338.8" stroke="#cdcdcd" stroke-width="1"/>
<line x1="38.5" y1="339.5" x2="38.5" y2="557.2" stroke="#888" stroke-width="1"/>
<text x="37.2" y="562.8" font-size="13.6" text-anchor="end">0</text>
<text x="37.2" y="523.8" font-size="13.6" text-anchor="end">0.5</text>
<text x="37.2" y="484.8" font-size="13.6" text-anchor="end">1.0</text>
<text x="37.2" y="445.8" font-size="13.6" text-anchor="end">1.5</text>
<text x="37.2" y="406.8" font-size="13.6" text-anchor="end">2.0</text>
<text x="37.2" y="367.8" font-size="13.6" text-anchor="end">2.5</text>
<text transform="translate(16.8,459) rotate(-90)" class="b" font-size="13.5" letter-spacing="0.25" text-anchor="middle">FPKM (x 10<tspan font-size="9" dy="-5">6</tspan><tspan dy="5">)</tspan></text>
<rect x="40.9" y="366.5" width="6.4" height="190.7" fill="#fff" stroke="#333" stroke-width="0.8"/>
<rect x="40.9" y="416.9" width="6.4" height="140.3" fill="#5a5a5a" stroke="#333" stroke-width="0.8"/>
<path d="M44.1 347.1 V385.9 M42.1 347.1 h4 M42.1 385.9 h4" stroke="#2a2a2a" stroke-width="0.9" fill="none"/>
<path d="M44.1 387.4 V446.3 M42.1 387.4 h4 M42.1 446.3 h4" stroke="#2a2a2a" stroke-width="0.9" fill="none"/>
<text transform="translate(46.1,559.4) rotate(-90)" font-size="11.35" text-anchor="end">GNB2</text>
<rect x="50.6" y="416.1" width="6.4" height="141.1" fill="#fff" stroke="#333" stroke-width="0.8"/>
<rect x="50.6" y="473.1" width="6.4" height="84.1" fill="#5a5a5a" stroke="#333" stroke-width="0.8"/>
<path d="M53.8 397.5 V434.7 M51.8 397.5 h4 M51.8 434.7 h4" stroke="#2a2a2a" stroke-width="0.9" fill="none"/>
<path d="M53.8 456.0 V490.1 M51.8 456.0 h4 M51.8 490.1 h4" stroke="#2a2a2a" stroke-width="0.9" fill="none"/>
<text transform="translate(55.8,559.4) rotate(-90)" font-size="11.35" text-anchor="end">FIS1</text>
<rect x="60.3" y="464.9" width="6.4" height="92.3" fill="#fff" stroke="#333" stroke-width="0.8"/>
<rect x="60.3" y="475.0" width="6.4" height="82.2" fill="#5a5a5a" stroke="#333" stroke-width="0.8"/>
<path d="M63.5 456.4 V473.5 M61.5 456.4 h4 M61.5 473.5 h4" stroke="#2a2a2a" stroke-width="0.9" fill="none"/>
<path d="M63.5 465.7 V484.3 M61.5 465.7 h4 M61.5 484.3 h4" stroke="#2a2a2a" stroke-width="0.9" fill="none"/>
<text transform="translate(65.5,559.4) rotate(-90)" font-size="11.35" text-anchor="end">SRRT</text>
<rect x="70.0" y="468.8" width="6.4" height="88.4" fill="#fff" stroke="#333" stroke-width="0.8"/>
<rect x="70.0" y="516.1" width="6.4" height="41.1" fill="#5a5a5a" stroke="#333" stroke-width="0.8"/>
<path d="M73.2 461.8 V475.8 M71.2 461.8 h4 M71.2 475.8 h4" stroke="#2a2a2a" stroke-width="0.9" fill="none"/>
<path d="M73.2 510.3 V521.9 M71.2 510.3 h4 M71.2 521.9 h4" stroke="#2a2a2a" stroke-width="0.9" fill="none"/>
<text transform="translate(75.2,559.4) rotate(-90)" font-size="11.35" text-anchor="end">CUX1</text>
<rect x="79.7" y="491.1" width="6.4" height="66.1" fill="#fff" stroke="#333" stroke-width="0.8"/>
<rect x="79.7" y="502.0" width="6.4" height="55.2" fill="#5a5a5a" stroke="#333" stroke-width="0.8"/>
<path d="M82.9 479.8 V502.3 M80.9 479.8 h4 M80.9 502.3 h4" stroke="#2a2a2a" stroke-width="0.9" fill="none"/>
<path d="M82.9 491.5 V512.5 M80.9 491.5 h4 M80.9 512.5 h4" stroke="#2a2a2a" stroke-width="0.9" fill="none"/>
<text transform="translate(84.9,559.4) rotate(-90)" font-size="11.35" text-anchor="end">TSC22D4</text>
<rect x="89.4" y="487.7" width="6.4" height="69.5" fill="#fff" stroke="#333" stroke-width="0.8"/>
<rect x="89.4" y="516.6" width="6.4" height="40.6" fill="#5a5a5a" stroke="#333" stroke-width="0.8"/>
<path d="M92.6 478.8 V496.6 M90.6 478.8 h4 M90.6 496.6 h4" stroke="#2a2a2a" stroke-width="0.9" fill="none"/>
<path d="M92.6 508.9 V524.4 M90.6 508.9 h4 M90.6 524.4 h4" stroke="#2a2a2a" stroke-width="0.9" fill="none"/>
<text transform="translate(94.6,559.4) rotate(-90)" font-size="11.35" text-anchor="end">LRCH4</text>
<rect x="99.1" y="488.3" width="6.4" height="68.9" fill="#fff" stroke="#333" stroke-width="0.8"/>
<rect x="99.1" y="524.9" width="6.4" height="32.3" fill="#5a5a5a" stroke="#333" stroke-width="0.8"/>
<path d="M102.3 478.2 V498.3 M100.3 478.2 h4 M100.3 498.3 h4" stroke="#2a2a2a" stroke-width="0.9" fill="none"/>
<path d="M102.3 520.0 V529.8 M100.3 520.0 h4 M100.3 529.8 h4" stroke="#2a2a2a" stroke-width="0.9" fill="none"/>
<text transform="translate(104.3,559.4) rotate(-90)" font-size="11.35" text-anchor="end">ZNHIT1</text>
<rect x="108.8" y="489.7" width="6.4" height="67.5" fill="#5a5a5a" stroke="#333" stroke-width="0.8"/>
<path d="M112.0 458.7 V520.7 M110.0 458.7 h4 M110.0 520.7 h4" stroke="#2a2a2a" stroke-width="0.9" fill="none"/>
<text transform="translate(114.0,559.4) rotate(-90)" font-size="11.35" text-anchor="end">TFR2</text>
<rect x="118.4" y="510.7" width="6.4" height="46.5" fill="#fff" stroke="#333" stroke-width="0.8"/>
<rect x="118.4" y="535.9" width="6.4" height="21.3" fill="#5a5a5a" stroke="#333" stroke-width="0.8"/>
<path d="M121.6 498.3 V523.1 M119.6 498.3 h4 M119.6 523.1 h4" stroke="#2a2a2a" stroke-width="0.9" fill="none"/>
<path d="M121.6 530.2 V541.5 M119.6 530.2 h4 M119.6 541.5 h4" stroke="#2a2a2a" stroke-width="0.9" fill="none"/>
<text transform="translate(123.6,559.4) rotate(-90)" font-size="11.35" text-anchor="end">PILRA</text>
<rect x="128.1" y="520.7" width="6.4" height="36.5" fill="#5a5a5a" stroke="#333" stroke-width="0.8"/>
<path d="M131.3 505.9 V535.4 M129.3 505.9 h4 M129.3 535.4 h4" stroke="#2a2a2a" stroke-width="0.9" fill="none"/>
<text transform="translate(133.3,559.4) rotate(-90)" font-size="11.35" text-anchor="end">PPP1R35</text>
<rect x="137.8" y="528.7" width="6.4" height="28.5" fill="#5a5a5a" stroke="#333" stroke-width="0.8"/>
<path d="M141.0 514.3 V543.2 M139.0 514.3 h4 M139.0 543.2 h4" stroke="#2a2a2a" stroke-width="0.9" fill="none"/>
<text transform="translate(143.0,559.4) rotate(-90)" font-size="11.35" text-anchor="end">AP1S1</text>
<rect x="147.5" y="522.0" width="6.4" height="35.2" fill="#fff" stroke="#333" stroke-width="0.8"/>
<rect x="147.5" y="539.9" width="6.4" height="17.3" fill="#5a5a5a" stroke="#333" stroke-width="0.8"/>
<path d="M150.7 518.2 V525.9 M148.7 518.2 h4 M148.7 525.9 h4" stroke="#2a2a2a" stroke-width="0.9" fill="none"/>
<path d="M150.7 537.6 V542.2 M148.7 537.6 h4 M148.7 542.2 h4" stroke="#2a2a2a" stroke-width="0.9" fill="none"/>
<text transform="translate(152.7,559.4) rotate(-90)" font-size="11.35" text-anchor="end">PLOD3</text>
<rect x="157.2" y="534.7" width="6.4" height="22.5" fill="#5a5a5a" stroke="#333" stroke-width="0.8"/>
<path d="M160.4 532.4 V537.0 M158.4 532.4 h4 M158.4 537.0 h4" stroke="#2a2a2a" stroke-width="0.9" fill="none"/>
<text transform="translate(162.4,559.4) rotate(-90)" font-size="11.35" text-anchor="end">MEPCE</text>
<rect x="166.9" y="527.4" width="6.4" height="29.8" fill="#fff" stroke="#333" stroke-width="0.8"/>
<rect x="166.9" y="543.8" width="6.4" height="13.4" fill="#5a5a5a" stroke="#333" stroke-width="0.8"/>
<path d="M170.1 522.0 V532.9 M168.1 522.0 h4 M168.1 532.9 h4" stroke="#2a2a2a" stroke-width="0.9" fill="none"/>
<path d="M170.1 541.5 V546.1 M168.1 541.5 h4 M168.1 546.1 h4" stroke="#2a2a2a" stroke-width="0.9" fill="none"/>
<text transform="translate(172.1,559.4) rotate(-90)" font-size="11.35" text-anchor="end">SLC12A9</text>
<rect x="176.6" y="534.2" width="6.4" height="23.0" fill="#fff" stroke="#333" stroke-width="0.8"/>
<rect x="176.6" y="537.4" width="6.4" height="19.8" fill="#5a5a5a" stroke="#333" stroke-width="0.8"/>
<path d="M179.8 531.2 V537.1 M177.8 531.2 h4 M177.8 537.1 h4" stroke="#2a2a2a" stroke-width="0.9" fill="none"/>
<path d="M179.8 533.9 V540.9 M177.8 533.9 h4 M177.8 540.9 h4" stroke="#2a2a2a" stroke-width="0.9" fill="none"/>
<text transform="translate(181.8,559.4) rotate(-90)" font-size="11.35" text-anchor="end">POP7</text>
<rect x="186.3" y="533.2" width="6.4" height="24.0" fill="#fff" stroke="#333" stroke-width="0.8"/>
<rect x="186.3" y="538.6" width="6.4" height="18.6" fill="#5a5a5a" stroke="#333" stroke-width="0.8"/>
<path d="M189.5 529.3 V537.0 M187.5 529.3 h4 M187.5 537.0 h4" stroke="#2a2a2a" stroke-width="0.9" fill="none"/>
<path d="M189.5 533.9 V543.2 M187.5 533.9 h4 M187.5 543.2 h4" stroke="#2a2a2a" stroke-width="0.9" fill="none"/>
<text transform="translate(191.5,559.4) rotate(-90)" font-size="11.35" text-anchor="end">GIGYF1</text>
<rect x="196.0" y="535.1" width="6.4" height="22.1" fill="#5a5a5a" stroke="#333" stroke-width="0.8"/>
<path d="M199.2 524.6 V545.6 M197.2 524.6 h4 M197.2 545.6 h4" stroke="#2a2a2a" stroke-width="0.9" fill="none"/>
<text transform="translate(201.2,559.4) rotate(-90)" font-size="11.35" text-anchor="end">SAP25</text>
<rect x="205.7" y="531.2" width="6.4" height="26.0" fill="#fff" stroke="#333" stroke-width="0.8"/>
<rect x="205.7" y="542.8" width="6.4" height="14.4" fill="#5a5a5a" stroke="#333" stroke-width="0.8"/>
<path d="M208.9 527.0 V535.5 M206.9 527.0 h4 M206.9 535.5 h4" stroke="#2a2a2a" stroke-width="0.9" fill="none"/>
<path d="M208.9 540.5 V545.1 M206.9 540.5 h4 M206.9 545.1 h4" stroke="#2a2a2a" stroke-width="0.9" fill="none"/>
<text transform="translate(210.9,559.4) rotate(-90)" font-size="11.35" text-anchor="end">MOSPD3</text>
<rect x="215.4" y="534.2" width="6.4" height="23.0" fill="#fff" stroke="#333" stroke-width="0.8"/>
<rect x="215.4" y="544.7" width="6.4" height="12.5" fill="#5a5a5a" stroke="#333" stroke-width="0.8"/>
<path d="M218.6 531.2 V537.1 M216.6 531.2 h4 M216.6 537.1 h4" stroke="#2a2a2a" stroke-width="0.9" fill="none"/>
<path d="M218.6 542.8 V546.7 M216.6 542.8 h4 M216.6 546.7 h4" stroke="#2a2a2a" stroke-width="0.9" fill="none"/>
<text transform="translate(220.6,559.4) rotate(-90)" font-size="11.35" text-anchor="end">PMS2L1</text>
<rect x="225.1" y="536.0" width="6.4" height="21.2" fill="#fff" stroke="#333" stroke-width="0.8"/>
<rect x="225.1" y="547.0" width="6.4" height="10.2" fill="#5a5a5a" stroke="#333" stroke-width="0.8"/>
<path d="M228.3 529.3 V542.8 M226.3 529.3 h4 M226.3 542.8 h4" stroke="#2a2a2a" stroke-width="0.9" fill="none"/>
<path d="M228.3 543.9 V550.1 M226.3 543.9 h4 M226.3 550.1 h4" stroke="#2a2a2a" stroke-width="0.9" fill="none"/>
<text transform="translate(230.3,559.4) rotate(-90)" font-size="11.35" text-anchor="end">TRIP6</text>
<rect x="234.8" y="541.8" width="6.4" height="15.4" fill="#fff" stroke="#333" stroke-width="0.8"/>
<rect x="234.8" y="545.6" width="6.4" height="11.6" fill="#5a5a5a" stroke="#333" stroke-width="0.8"/>
<path d="M238.0 540.5 V543.2 M236.0 540.5 h4 M236.0 543.2 h4" stroke="#2a2a2a" stroke-width="0.9" fill="none"/>
<path d="M238.0 544.1 V547.2 M236.0 544.1 h4 M236.0 547.2 h4" stroke="#2a2a2a" stroke-width="0.9" fill="none"/>
<text transform="translate(240.0,559.4) rotate(-90)" font-size="11.35" text-anchor="end">TRIM56</text>
<rect x="244.5" y="541.8" width="6.4" height="15.4" fill="#fff" stroke="#333" stroke-width="0.8"/>
<rect x="244.5" y="548.2" width="6.4" height="9.0" fill="#5a5a5a" stroke="#333" stroke-width="0.8"/>
<path d="M247.7 539.0 V544.7 M245.7 539.0 h4 M245.7 544.7 h4" stroke="#2a2a2a" stroke-width="0.9" fill="none"/>
<path d="M247.7 546.7 V549.8 M245.7 546.7 h4 M245.7 549.8 h4" stroke="#2a2a2a" stroke-width="0.9" fill="none"/>
<text transform="translate(249.7,559.4) rotate(-90)" font-size="11.35" text-anchor="end">CLDN15</text>
<rect x="254.1" y="541.8" width="6.4" height="15.4" fill="#fff" stroke="#333" stroke-width="0.8"/>
<rect x="254.1" y="549.5" width="6.4" height="7.7" fill="#5a5a5a" stroke="#333" stroke-width="0.8"/>
<path d="M257.3 539.0 V544.7 M255.3 539.0 h4 M255.3 544.7 h4" stroke="#2a2a2a" stroke-width="0.9" fill="none"/>
<path d="M257.3 548.0 V551.1 M255.3 548.0 h4 M255.3 551.1 h4" stroke="#2a2a2a" stroke-width="0.9" fill="none"/>
<text transform="translate(259.3,559.4) rotate(-90)" font-size="11.35" text-anchor="end">PILRB</text>
<rect x="263.8" y="545.1" width="6.4" height="12.1" fill="#5a5a5a" stroke="#333" stroke-width="0.8"/>
<path d="M267.0 534.2 V556.0 M265.0 534.2 h4 M265.0 556.0 h4" stroke="#2a2a2a" stroke-width="0.9" fill="none"/>
<text transform="translate(269.0,559.4) rotate(-90)" font-size="11.35" text-anchor="end">SERPINE1</text>
<rect x="273.5" y="547.7" width="6.4" height="9.5" fill="#5a5a5a" stroke="#333" stroke-width="0.8"/>
<path d="M276.7 544.3 V551.2 M274.7 544.3 h4 M274.7 551.2 h4" stroke="#2a2a2a" stroke-width="0.9" fill="none"/>
<text transform="translate(278.7,559.4) rotate(-90)" font-size="11.35" text-anchor="end">EPHB4</text>
<rect x="283.2" y="548.4" width="6.4" height="8.8" fill="#5a5a5a" stroke="#333" stroke-width="0.8"/>
<path d="M286.4 544.2 V552.7 M284.4 544.2 h4 M284.4 552.7 h4" stroke="#2a2a2a" stroke-width="0.9" fill="none"/>
<text transform="translate(288.4,559.4) rotate(-90)" font-size="11.35" text-anchor="end">ACHE</text>
<rect x="292.9" y="548.1" width="6.4" height="9.1" fill="#fff" stroke="#333" stroke-width="0.8"/>
<rect x="292.9" y="550.8" width="6.4" height="6.4" fill="#5a5a5a" stroke="#333" stroke-width="0.8"/>
<path d="M296.1 546.5 V549.6 M294.1 546.5 h4 M294.1 549.6 h4" stroke="#2a2a2a" stroke-width="0.9" fill="none"/>
<path d="M296.1 548.5 V553.2 M294.1 548.5 h4 M294.1 553.2 h4" stroke="#2a2a2a" stroke-width="0.9" fill="none"/>
<text transform="translate(298.1,559.4) rotate(-90)" font-size="11.35" text-anchor="end">SH2B2</text>
<rect x="302.6" y="551.5" width="6.4" height="5.7" fill="#5a5a5a" stroke="#333" stroke-width="0.8"/>
<path d="M305.8 548.4 V554.5 M303.8 548.4 h4 M303.8 554.5 h4" stroke="#2a2a2a" stroke-width="0.9" fill="none"/>
<text transform="translate(307.8,559.4) rotate(-90)" font-size="11.35" text-anchor="end">AGFG2</text>
<rect x="312.3" y="552.2" width="6.4" height="5.0" fill="#5a5a5a" stroke="#333" stroke-width="0.8"/>
<path d="M315.5 550.5 V554.0 M313.5 550.5 h4 M313.5 554.0 h4" stroke="#2a2a2a" stroke-width="0.9" fill="none"/>
<text transform="translate(317.5,559.4) rotate(-90)" font-size="11.35" text-anchor="end">RABL5</text>
<rect x="322.0" y="552.9" width="6.4" height="4.3" fill="#5a5a5a" stroke="#333" stroke-width="0.8"/>
<path d="M325.2 551.5 V554.4 M323.2 551.5 h4 M323.2 554.4 h4" stroke="#2a2a2a" stroke-width="0.9" fill="none"/>
<text transform="translate(327.2,559.4) rotate(-90)" font-size="11.35" text-anchor="end">PVRIG</text>
<rect x="331.7" y="552.7" width="6.4" height="4.5" fill="#5a5a5a" stroke="#333" stroke-width="0.8"/>
<path d="M334.9 551.5 V553.9 M332.9 551.5 h4 M332.9 553.9 h4" stroke="#2a2a2a" stroke-width="0.9" fill="none"/>
<text transform="translate(336.9,559.4) rotate(-90)" font-size="11.35" text-anchor="end">ZCWPW1</text>
<rect x="341.4" y="552.2" width="6.4" height="5.0" fill="#5a5a5a" stroke="#333" stroke-width="0.8"/>
<path d="M344.6 549.7 V554.8 M342.6 549.7 h4 M342.6 554.8 h4" stroke="#2a2a2a" stroke-width="0.9" fill="none"/>
<text transform="translate(346.6,559.4) rotate(-90)" font-size="11.35" text-anchor="end">PCOLCE</text>
<rect x="351.1" y="554.7" width="6.4" height="2.5" fill="#5a5a5a" stroke="#333" stroke-width="0.8"/>
<path d="M354.3 553.9 V555.5 M352.3 553.9 h4 M352.3 555.5 h4" stroke="#2a2a2a" stroke-width="0.9" fill="none"/>
<text transform="translate(356.3,559.4) rotate(-90)" font-size="11.35" text-anchor="end">C7orf61</text>
<rect x="360.8" y="555.5" width="6.4" height="1.7" fill="#5a5a5a" stroke="#333" stroke-width="0.8"/>
<path d="M364.0 555.0 V556.0 M362.0 555.0 h4 M362.0 556.0 h4" stroke="#2a2a2a" stroke-width="0.9" fill="none"/>
<text transform="translate(366.0,559.4) rotate(-90)" font-size="11.35" text-anchor="end">STAG3</text>
<rect x="370.5" y="556.2" width="6.4" height="1.0" fill="#5a5a5a" stroke="#333" stroke-width="0.8"/>
<text transform="translate(375.7,559.4) rotate(-90)" font-size="11.35" text-anchor="end">GATS</text>
<line x1="380.2" y1="556.8000000000001" x2="386.6" y2="556.8000000000001" stroke="#333" stroke-width="1"/>
<text transform="translate(385.4,559.4) rotate(-90)" font-size="11.35" text-anchor="end">UFSP1</text>
<line x1="389.8" y1="556.8000000000001" x2="396.2" y2="556.8000000000001" stroke="#333" stroke-width="1"/>
<text transform="translate(395.0,559.4) rotate(-90)" font-size="11.35" text-anchor="end">SPDYE3</text>
<line x1="399.5" y1="556.8000000000001" x2="405.9" y2="556.8000000000001" stroke="#333" stroke-width="1"/>
<text transform="translate(404.7,559.4) rotate(-90)" font-size="11.35" text-anchor="end">FBXO24</text>
<line x1="409.2" y1="556.8000000000001" x2="415.6" y2="556.8000000000001" stroke="#333" stroke-width="1"/>
<text transform="translate(414.4,559.4) rotate(-90)" font-size="11.35" text-anchor="end">NYAP1</text>
<line x1="418.9" y1="556.8000000000001" x2="425.3" y2="556.8000000000001" stroke="#333" stroke-width="1"/>
<text transform="translate(424.1,559.4) rotate(-90)" font-size="11.35" text-anchor="end">EMID2</text>
<line x1="428.6" y1="556.8000000000001" x2="435.0" y2="556.8000000000001" stroke="#333" stroke-width="1"/>
<text transform="translate(433.8,559.4) rotate(-90)" font-size="11.35" text-anchor="end">VGF</text>
<line x1="438.3" y1="556.8000000000001" x2="444.7" y2="556.8000000000001" stroke="#333" stroke-width="1"/>
<text transform="translate(443.5,559.4) rotate(-90)" font-size="11.35" text-anchor="end">ZAN</text>
<line x1="448.0" y1="556.8000000000001" x2="454.4" y2="556.8000000000001" stroke="#333" stroke-width="1"/>
<text transform="translate(453.2,559.4) rotate(-90)" font-size="11.35" text-anchor="end">MUC12</text>
<line x1="457.7" y1="556.8000000000001" x2="464.1" y2="556.8000000000001" stroke="#333" stroke-width="1"/>
<text transform="translate(462.9,559.4) rotate(-90)" font-size="11.35" text-anchor="end">ACTL6B</text>
<line x1="467.4" y1="556.8000000000001" x2="473.8" y2="556.8000000000001" stroke="#333" stroke-width="1"/>
<text transform="translate(472.6,559.4) rotate(-90)" font-size="11.35" text-anchor="end">EPO</text>
<line x1="477.1" y1="556.8000000000001" x2="483.5" y2="556.8000000000001" stroke="#333" stroke-width="1"/>
<text transform="translate(482.3,559.4) rotate(-90)" font-size="11.35" text-anchor="end">NAT16</text>
<text transform="translate(492.0,559.4) rotate(-90)" font-size="11.35" text-anchor="end">MUC17</text>
<text transform="translate(501.7,559.4) rotate(-90)" font-size="11.35" text-anchor="end">MOGAT3</text>
<text transform="translate(511.4,559.4) rotate(-90)" font-size="11.35" text-anchor="end">MYL10</text>
<rect x="67.0" y="559.2" width="11.2" height="30.3" fill="none" stroke="#000" stroke-width="1.2"/>
<rect x="181.5" y="363.8" width="331" height="36.5" fill="#fff"/>
<rect x="182.6" y="366.9" width="9.3" height="9.3" fill="#595959" stroke="#111" stroke-width="1.2"/>
<rect x="182.6" y="382.8" width="9.3" height="9.0" fill="#fff" stroke="#111" stroke-width="1.2"/>
<text x="196.8" y="376.6" font-size="13.7" textLength="312.7" lengthAdjust="spacingAndGlyphs">-7/del(7q) leukemias (mean blast %: 41.9 ± 34.1)</text>
<text x="197" y="392.1" font-size="13.7" textLength="282.5" lengthAdjust="spacingAndGlyphs">other leukemias (mean blast %: 49.7 ± 20.8)</text>
<text x="59.8" y="437.3" font-size="12.8">p=6.7E-5</text>
<text x="129.8" y="500.8" font-size="12.8">p=2.1E-4</text>
<text x="430.7" y="533.9" font-size="12.8">p=9.6E-4</text>
<text x="72.5" y="464" class="b" font-size="17" text-anchor="middle">*</text>
<text x="149.8" y="520.5" class="b" font-size="17" text-anchor="middle">*</text>
<text x="450.2" y="560" class="b" font-size="17" text-anchor="middle">*</text>
</svg></body></html>
